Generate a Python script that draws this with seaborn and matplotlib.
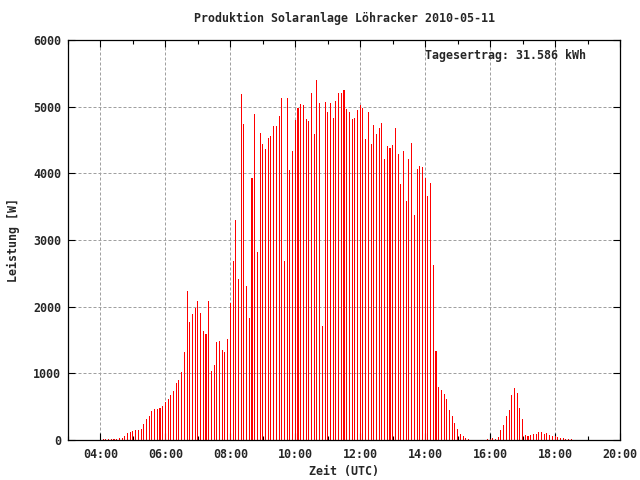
import matplotlib
matplotlib.use("Agg")
import matplotlib.pyplot as plt
from matplotlib.ticker import MultipleLocator, FuncFormatter
import pandas as pd
import seaborn as sns

# 5-minute power readings [W], starting 04:05 UTC
start_time = "04:05"
power = [
    15, 15, 15, 15, 15, 15, 30, 30, 60, 105, 120,            # 04:05 - 04:55
    135, 150, 150, 165, 240, 315, 360, 435, 465, 465, 480, 510,  # 05:00 - 05:55
    570, 615, 675, 735, 855, 900, 1020, 1320, 2235, 1770, 1890, 1980,  # 06:00
    2085, 1905, 1635, 1590, 2085, 1035, 1125, 1470, 1485, 1350, 1320, 1515,  # 07:00
    2055, 2685, 3300, 2415, 5190, 4740, 2310, 1830, 3930, 4890, 2820, 4605,  # 08:00
    4440, 4365, 4530, 4560, 4710, 4710, 4860, 5130, 2685, 5130, 4050, 4335,  # 09:00
    4800, 4980, 5040, 5025, 4815, 4785, 5205, 4590, 5400, 5055, 1710, 5070,  # 10:00
    4920, 5055, 4830, 5085, 5205, 5205, 5250, 4965, 4920, 4815, 4830, 4950,  # 11:00
    5025, 4980, 4515, 4920, 4440, 4725, 4590, 4680, 4755, 4215, 4410, 4380,  # 12:00
    4425, 4680, 4290, 3840, 4335, 3585, 4215, 4455, 3375, 4065, 4110, 4095,  # 13:00
    3930, 3660, 3855, 2625, 1335, 795, 750, 690, 615, 450, 360, 255,  # 14:00
    165, 90, 60, 30, 15, 0, 0, 0, 0, 0, 0, 15,  # 15:00
    15, 30, 15, 45, 150, 225, 360, 450, 675, 780, 705, 480,  # 16:00
    315, 75, 60, 75, 90, 90, 120, 120, 90, 105, 75, 60,  # 17:00
    60, 45, 30, 30, 15, 15, 15,  # 18:00 - 18:30
]
title = "Produktion Solaranlage Löhracker 2010-05-11"
yield_text = "Tagesertrag: 31.586 kWh"

t0 = pd.Timestamp("2010-05-11 " + start_time)
times = pd.date_range(t0, periods=len(power), freq="5min")
df = pd.DataFrame({
    "minute": times.hour * 60 + times.minute,
    "power": power,
})

sns.set_style("white")
plt.rcParams["font.family"] = ["DejaVu Sans Mono"]
plt.rcParams["font.weight"] = "bold"
plt.rcParams["font.size"] = 8.4

fig = plt.figure(figsize=(6.4, 4.8), dpi=100)
ax = fig.add_axes([68 / 640, 40 / 480, 552 / 640, 400 / 480])

sns.barplot(data=df, x="minute", y="power", native_scale=True, color="red",
            saturation=1, width=0.4, linewidth=0, errorbar=None, ax=ax)

ax.set_xlim(180, 1200)
ax.set_ylim(0, 6000)
ax.xaxis.set_major_locator(MultipleLocator(120))
ax.xaxis.set_minor_locator(MultipleLocator(60))
ax.yaxis.set_major_locator(MultipleLocator(1000))
ax.xaxis.set_major_formatter(FuncFormatter(lambda m, _: f"{int(m) // 60:02d}:{int(m) % 60:02d}"))
ax.set_xlabel("")
ax.set_ylabel("")

ax.set_axisbelow(True)
ax.grid(True, which="major", color="#a0a0a0", linewidth=0.72, linestyle=(0, (3, 2)))
for s in ax.spines.values():
    s.set_color("black")
    s.set_linewidth(0.9)
ax.tick_params(which="both", direction="in", top=True, right=True,
               bottom=True, left=True, color="black", width=0.8)
ax.tick_params(which="major", length=5)
ax.tick_params(which="minor", length=3)
ax.tick_params(axis="x", pad=6)
ax.tick_params(axis="y", pad=5)

ax.text((425 - 68) / 552, (440 - 56) / 400, yield_text, transform=ax.transAxes,
        ha="left", va="center")
fig.text(344 / 640, 1 - 18 / 480, title, ha="center", va="center")
fig.text(344 / 640, 1 - 472 / 480, "Zeit (UTC)", ha="center", va="center")
fig.text(13 / 640, 0.5, "Leistung [W]", rotation=90, ha="center", va="center")

fig.savefig("out.png", dpi=100)
